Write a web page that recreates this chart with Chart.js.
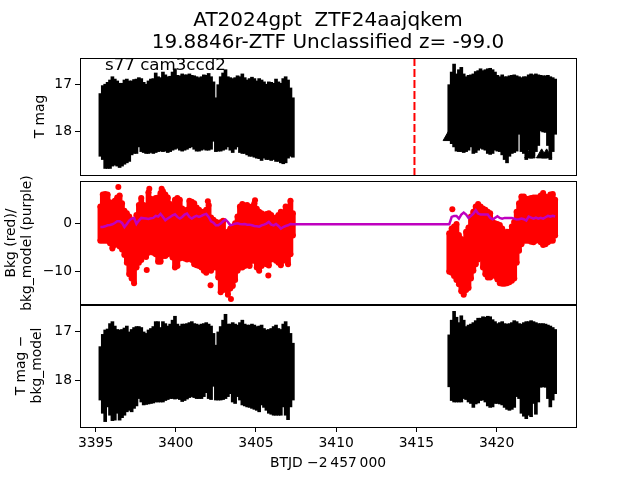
<!DOCTYPE html>
<html>
<head>
<meta charset="utf-8">
<title>AT2024gpt</title>
<script src="https://cdn.jsdelivr.net/npm/chart.js@4/dist/chart.umd.min.js"></script>
<style>
  body { margin: 0; background: #fff; }
  canvas { position: absolute; left: 0; }
</style>
</head>
<body>
<canvas id="panelMag" width="640" height="182" style="top:0"></canvas>
<canvas id="panelBkg" width="640" height="165" style="top:160px"></canvas>
<canvas id="panelSub" width="640" height="177" style="top:303px"></canvas>
<script>
const titleLines = ['AT2024gpt  ZTF24aajqkem', '19.8846r-ZTF Unclassified z= -99.0'];
const sectorLabel = 's77 cam3ccd2';
const xTicks = [3395, 3400, 3405, 3410, 3415, 3420];
const magTicks = [17, 18];
const bkgTicks = [0, -10];
const discoveryTime = 3414.88;

const timesA = [3395.30,3395.45,3395.60,3395.75,3395.90,3396.05,3396.20,3396.35,3396.50,3396.65,3396.80,3396.95,3397.10,3397.25,3397.40,3397.55,3397.70,3397.85,3398.00,3398.15,3398.30,3398.45,3398.60,3398.75,3398.90,3399.05,3399.20,3399.35,3399.50,3399.65,3399.80,3399.95,3400.10,3400.25,3400.40,3400.55,3400.70,3400.85,3401.00,3401.15,3401.30,3401.45,3401.60,3401.75,3401.90,3402.05,3402.20,3402.35,3402.50,3402.65,3402.80,3402.95,3403.10,3403.25,3403.40,3403.55,3403.70,3403.85,3404.00,3404.15,3404.30,3404.45,3404.60,3404.75,3404.90,3405.05,3405.20,3405.35,3405.50,3405.65,3405.80,3405.95,3406.10,3406.25,3406.40,3406.55,3406.70,3406.85,3407.00,3407.15,3407.30];
const timesB = [3417.05,3417.20,3417.35,3417.50,3417.65,3417.80,3417.95,3418.10,3418.25,3418.40,3418.55,3418.70,3418.85,3419.00,3419.15,3419.30,3419.45,3419.60,3419.75,3419.90,3420.05,3420.20,3420.35,3420.50,3420.65,3420.80,3420.95,3421.10,3421.25,3421.40,3421.55,3421.70,3421.85,3422.00,3422.15,3422.30,3422.45,3422.60,3422.75,3422.90,3423.05,3423.20,3423.35,3423.50,3423.65];

// T mag, bright and faint edge of the band
const magBrightA = [17.20,17.03,17.00,16.96,16.91,16.84,16.89,16.93,16.98,16.98,16.91,16.89,16.93,16.93,16.90,16.89,16.86,16.88,16.96,17.00,16.93,16.89,16.88,16.76,16.84,16.86,16.74,16.80,16.84,16.83,16.74,16.67,16.81,16.82,16.78,16.80,16.80,16.78,16.81,16.82,16.84,16.86,16.84,16.80,16.81,16.77,16.84,16.95,17.29,17.01,16.84,16.76,16.69,16.84,16.86,16.88,16.86,16.82,16.84,16.78,16.86,16.91,16.88,16.85,16.88,16.93,16.88,16.91,16.95,17.00,16.95,16.96,16.98,16.89,16.95,16.98,16.88,16.84,16.91,17.08,17.29];
const magFaintA = [18.54,18.61,18.80,18.80,18.80,18.75,18.73,18.75,18.78,18.75,18.71,18.68,18.65,18.51,18.48,18.48,18.34,18.44,18.46,18.48,18.48,18.46,18.48,18.46,18.44,18.43,18.44,18.43,18.46,18.44,18.41,18.39,18.37,18.41,18.43,18.41,18.39,18.36,18.34,18.39,18.43,18.43,18.41,18.39,18.41,18.41,18.39,18.22,18.44,18.43,18.43,18.41,18.39,18.34,18.41,18.46,18.39,18.34,18.46,18.48,18.48,18.51,18.54,18.54,18.56,18.58,18.59,18.63,18.58,18.61,18.61,18.63,18.61,18.65,18.65,18.68,18.70,18.68,18.58,18.54,18.56];
const magBrightB = [17.01,16.74,16.57,16.78,16.69,16.64,16.78,16.84,16.81,16.80,16.78,16.73,16.71,16.67,16.71,16.69,16.67,16.66,16.69,16.74,16.81,16.84,16.80,16.84,16.84,16.82,16.81,16.80,16.82,16.84,16.86,16.84,16.84,16.80,16.78,16.80,16.78,16.80,16.81,16.82,16.82,16.81,16.84,16.86,16.89];
const magFaintB = [18.20,18.27,18.34,18.43,18.44,18.44,18.46,18.44,18.41,18.34,18.48,18.46,18.41,18.37,18.39,18.41,18.48,18.50,18.48,18.41,18.43,18.44,18.51,18.61,18.68,18.54,18.48,18.46,18.43,18.07,18.44,18.48,18.61,18.41,18.58,18.54,18.44,18.31,18.00,18.02,18.03,18.31,18.61,18.44,18.07];
const limitTimes = [3416.99, 3422.08, 3422.81, 3423.12];
const limitMags = [18.14, 18.51, 18.51, 18.51];

// Bkg, upper and lower edge of the red dots
const bkgHighA = [3.6,6.1,6.2,6.1,4.5,4.3,4.8,5.5,5.9,4.3,2.7,2.2,1.5,0.8,0.4,1.8,3.9,5.4,3.9,3.2,6.6,5.2,5.0,5.4,5.5,6.4,6.8,6.1,5.5,4.1,3.6,5.0,5.4,5.0,3.2,2.5,2.9,4.8,4.6,4.3,3.4,2.9,2.5,2.5,2.9,3.9,1.3,0.8,0.4,0.2,0.3,0.6,-2.0,-1.7,-1.0,-0.8,0.1,1.5,3.6,4.1,3.8,3.9,3.4,3.6,4.3,3.1,2.5,2.2,1.8,2.0,2.2,1.8,0.4,1.3,1.8,2.5,2.2,3.6,3.4,4.8,2.2];
const bkgLowA = [-3.6,-3.6,-3.6,-3.6,-4.1,-5.2,-4.5,-4.3,-4.8,-5.4,-6.6,-8.2,-10.6,-11.5,-12.5,-9.2,-8.2,-7.6,-6.8,-7.0,-6.1,-5.7,-6.1,-6.4,-8.0,-8.0,-6.8,-6.8,-6.4,-6.1,-7.1,-9.2,-8.9,-7.3,-7.1,-7.3,-7.5,-7.3,-7.6,-8.5,-8.7,-8.9,-9.2,-9.9,-10.3,-9.6,-9.9,-9.2,-9.2,-11.3,-14.4,-13.9,-13.8,-14.9,-13.6,-13.1,-11.8,-9.9,-9.2,-9.2,-8.9,-8.5,-8.9,-7.8,-7.8,-9.2,-9.9,-8.9,-8.2,-8.5,-8.8,-7.5,-7.3,-7.8,-8.2,-8.7,-7.8,-7.1,-8.5,-6.4,-2.5];
const bkgHighB = [-2.0,-1.0,-0.6,-0.1,-2.4,-3.2,-3.5,-1.7,-0.8,1.5,2.5,3.6,4.1,3.6,3.2,2.9,2.5,2.2,0.4,0.1,-0.1,-0.3,-1.0,-2.4,-1.7,-1.7,-0.6,0.4,2.5,4.3,5.7,5.7,5.2,5.2,5.4,5.5,5.5,5.5,5.9,6.4,5.7,5.4,6.1,6.2,5.0];
const bkgLowB = [-10.1,-10.3,-11.0,-11.8,-12.7,-14.2,-14.9,-13.9,-13.5,-11.5,-9.9,-8.5,-7.5,-6.6,-9.2,-10.6,-11.3,-11.3,-10.4,-11.0,-11.7,-12.5,-12.6,-12.6,-12.5,-12.3,-12.0,-11.5,-8.2,-5.7,-4.3,-3.6,-3.6,-3.6,-3.8,-3.9,-3.6,-3.2,-3.9,-4.5,-4.3,-3.9,-3.6,-3.6,-2.5];
const strayTimes = [3396.42, 3398.19, 3398.35, 3399.12, 3402.00, 3402.17, 3403.44, 3404.94, 3405.77, 3417.24];
const strayBkg = [7.7, -9.7, 7.3, 7.3, 4.7, -12.9, -15.8, 4.9, -10.9, 3.0];

// bkg_model
const modelA = [-0.7,-0.7,-0.56,-0.35,-0.28,-0.14,0.14,0.49,0.49,0.14,-0.7,-0.07,0.63,1.06,1.2,-0.07,0.63,1.2,1.13,1.06,0.99,1.13,1.2,1.62,1.48,2.04,1.41,0.7,1.06,1.41,1.76,1.97,1.41,1.06,1.41,1.9,2.11,1.41,1.06,1.41,1.62,1.41,1.62,1.9,2.04,1.41,0.49,0.21,-0.35,-0.35,0,0.49,0.85,0.35,-0.35,-0.21,0,0.07,-0.07,-0.14,-0.07,-0.21,-0.21,-0.35,-0.49,-0.56,-0.63,-0.35,-0.21,0,0.35,-0.21,-0.35,-0.07,-0.49,-1.06,-0.7,-0.49,-0.35,-0.07,-0.14];
const modelB = [-0.14,1.41,1.62,1.62,1.06,1.9,2.32,1.9,1.2,1.62,2.11,2.82,2.11,1.9,1.9,1.9,1.9,1.2,0.92,1.2,1.55,1.2,1.06,1.2,1.2,1.2,1.2,1.06,0.85,0.92,1.06,0.92,0.63,1.48,1.27,1.06,1.27,1.06,1.2,1.06,1.34,1.62,1.48,1.62,1.48];

// T mag - bkg_model, bright and faint edge
const subBrightA = [17.31,17.06,16.97,16.95,16.84,16.80,16.89,16.96,16.97,16.96,16.93,16.89,17.01,16.96,16.92,16.90,16.90,16.92,17.01,17.04,16.97,16.94,16.90,16.80,16.80,16.92,16.80,16.84,16.89,16.85,16.77,16.69,16.85,16.89,16.85,16.85,16.84,16.82,16.80,16.84,16.85,16.87,16.85,16.84,16.82,16.85,16.89,17.04,17.28,17.01,16.90,16.77,16.65,16.85,16.85,16.82,16.85,16.87,16.82,16.77,16.85,16.87,16.87,16.85,16.87,16.90,16.89,16.87,16.94,16.97,16.96,16.94,16.90,16.87,16.94,16.96,16.85,16.80,16.90,17.04,17.24];
const subFaintA = [18.40,18.67,18.84,18.54,18.71,18.82,18.81,18.67,18.81,18.76,18.71,18.64,18.61,18.64,18.57,18.52,18.37,18.44,18.50,18.49,18.48,18.47,18.46,18.44,18.44,18.44,18.44,18.41,18.39,18.37,18.37,18.38,18.37,18.39,18.43,18.41,18.38,18.35,18.33,18.35,18.37,18.37,18.37,18.33,18.25,18.37,18.39,18.12,18.40,18.40,18.40,18.39,18.37,18.33,18.27,18.44,18.47,18.33,18.40,18.50,18.52,18.54,18.55,18.57,18.59,18.61,18.64,18.50,18.55,18.61,18.67,18.69,18.71,18.71,18.71,18.71,18.54,18.71,18.80,18.54,18.40];
const subBrightB = [17.07,16.77,16.59,16.71,16.82,16.68,16.77,16.90,16.87,16.85,16.82,16.78,16.73,16.73,16.70,16.71,16.69,16.70,16.76,16.80,16.84,16.82,16.80,16.84,16.85,16.84,16.82,16.78,16.80,16.84,16.85,16.82,16.80,16.80,16.78,16.80,16.82,16.84,16.84,16.84,16.85,16.87,16.89,16.92,16.96];
const subFaintB = [18.13,18.41,18.44,18.44,18.44,18.44,18.37,18.39,18.44,18.47,18.55,18.48,18.46,18.41,18.40,18.44,18.52,18.55,18.54,18.47,18.47,18.48,18.50,18.55,18.59,18.61,18.59,18.55,18.33,18.37,18.67,18.73,18.78,18.71,18.74,18.47,18.69,18.44,18.14,18.13,18.14,18.37,18.54,18.40,18.27];

const times = timesA.concat(timesB);

function rangeBars(lows, highs) {
  return times.map((t, i) => ({ x: t, y: [lows[i], highs[i]] }));
}
function pointsOf(ts, ys) {
  return ts.map((t, i) => ({ x: t, y: ys[i] }));
}

const tickFont = { family: 'DejaVu Sans', size: 13.89, lineHeight: 1.15 };

function minusSign(v) {
  return String(v).replace('-', '\u2212');
}

const framePlugin = {
  id: 'frame',
  afterDraw(chart) {
    const a = chart.chartArea;
    const ctx = chart.ctx;
    ctx.save();
    ctx.strokeStyle = '#000';
    ctx.lineWidth = 1;
    ctx.strokeRect(a.left + 0.5, a.top + 0.5, a.right - a.left, a.bottom - a.top);
    ctx.restore();
  }
};

const sectorPlugin = {
  id: 'sector',
  afterDraw(chart) {
    const ctx = chart.ctx;
    ctx.save();
    ctx.fillStyle = '#000';
    ctx.font = '16.67px "DejaVu Sans"';
    ctx.fillText(sectorLabel, 105, 70);
    ctx.restore();
  }
};

function dropPadding(scale) {
  scale.paddingLeft = 0;
  scale.paddingRight = 0;
  scale.paddingTop = 0;
  scale.paddingBottom = 0;
}

function xAxis(showIt) {
  return {
    type: 'linear',
    display: showIt,
    min: 3394.03,
    max: 3424.95,
    offset: false,
    afterBuildTicks(scale) { scale.ticks = xTicks.map(v => ({ value: v })); },
    afterFit(scale) {
      dropPadding(scale);
      if (showIt) scale.height = 53;
    },
    grid: { offset: false, drawOnChartArea: false, color: '#000', tickLength: 5 },
    border: { display: false },
    ticks: { color: '#000', font: tickFont, padding: 3, maxRotation: 0, autoSkip: false, callback: v => String(v) },
    title: { display: showIt, text: 'BTJD \u22122\u2009457\u2009000', color: '#000', font: tickFont, padding: { top: 0, bottom: 9 } }
  };
}

function yAxis(lo, hi, reversed, tickValues, label, pad) {
  return {
    reverse: reversed,
    min: lo,
    max: hi,
    afterBuildTicks(scale) { scale.ticks = tickValues.map(v => ({ value: v })); },
    afterFit(scale) {
      dropPadding(scale);
      scale.width = 80;
    },
    grid: { drawOnChartArea: false, color: '#000', tickLength: 5 },
    border: { display: false },
    ticks: { color: '#000', font: tickFont, padding: 3, callback: minusSign },
    title: { display: true, text: label, color: '#000', font: tickFont, padding: { top: pad, bottom: 0 } }
  };
}

function barSet(lows, highs, colour, thick) {
  return {
    type: 'bar',
    data: rangeBars(lows, highs),
    backgroundColor: colour,
    barThickness: thick,
    grouped: false,
    order: 5
  };
}

const baseOptions = {
  responsive: false,
  animation: false,
  plugins: { legend: { display: false }, tooltip: { enabled: false } }
};

new Chart(document.getElementById('panelMag'), {
  type: 'bar',
  data: {
    datasets: [
      {
        type: 'line',
        data: pointsOf([discoveryTime, discoveryTime], [16.44, 18.94]),
        borderColor: '#ff0000',
        borderWidth: 2,
        borderDash: [8, 3],
        pointRadius: 0,
        order: 1
      },
      {
        type: 'scatter',
        data: pointsOf(limitTimes, limitMags),
        pointStyle: 'triangle',
        pointRadius: 6,
        backgroundColor: '#000',
        borderColor: '#000',
        order: 2
      },
      barSet(magFaintA.concat(magFaintB), magBrightA.concat(magBrightB), '#000', 3)
    ]
  },
  options: {
    ...baseOptions,
    layout: { padding: { right: 64, bottom: 1 } },
    plugins: {
      ...baseOptions.plugins,
      title: {
        display: true,
        text: titleLines,
        fullSize: false,
        color: '#000',
        font: { family: 'DejaVu Sans', size: 20, weight: 'normal', lineHeight: 1.1 },
        padding: { top: 10, bottom: 4 }
      }
    },
    scales: { x: xAxis(false), y: yAxis(16.44, 18.94, true, magTicks, 'T mag', 32) }
  },
  plugins: [framePlugin, sectorPlugin]
});

new Chart(document.getElementById('panelBkg'), {
  type: 'bar',
  data: {
    datasets: [
      {
        type: 'line',
        data: pointsOf(times, modelA.concat(modelB)),
        borderColor: '#bf00bf',
        borderWidth: 2.5,
        pointRadius: 0,
        tension: 0,
        order: 1
      },
      {
        type: 'scatter',
        data: pointsOf(times, bkgHighA.concat(bkgHighB)).concat(pointsOf(times, bkgLowA.concat(bkgLowB))).concat(pointsOf(strayTimes, strayBkg)),
        pointRadius: 3,
        backgroundColor: '#ff0000',
        borderWidth: 0,
        order: 2
      },
      barSet(bkgLowA.concat(bkgLowB), bkgHighA.concat(bkgHighB), '#ff0000', 5)
    ]
  },
  options: {
    ...baseOptions,
    layout: { padding: { right: 64, top: 21, bottom: 20 } },
    scales: { x: xAxis(false), y: yAxis(-17.06, 8.94, false, bkgTicks, ['Bkg (red)/', 'bkg_model (purple)'], 3) }
  },
  plugins: [framePlugin]
});

new Chart(document.getElementById('panelSub'), {
  type: 'bar',
  data: {
    datasets: [
      barSet(subFaintA.concat(subFaintB), subBrightA.concat(subBrightB), '#000', 3)
    ]
  },
  options: {
    ...baseOptions,
    layout: { padding: { right: 64, top: 1 } },
    scales: { x: xAxis(true), y: yAxis(16.44, 18.95, true, magTicks, ['T mag \u2212', 'bkg_model'], 13) }
  },
  plugins: [framePlugin]
});
</script>
</body>
</html>
